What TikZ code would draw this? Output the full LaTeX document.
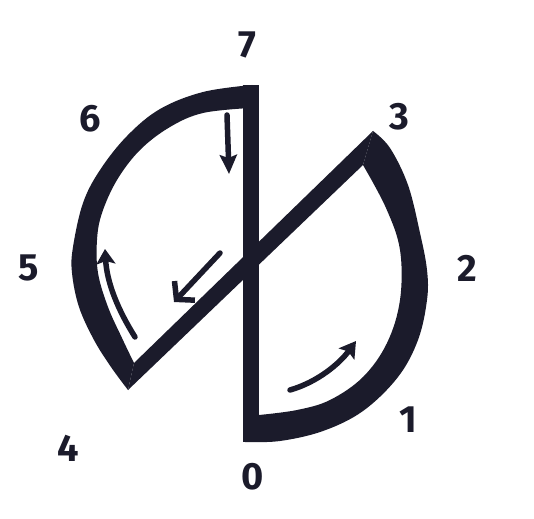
\documentclass[tikz,border=0pt]{standalone}
\usepackage{fontspec}
\setmainfont{Fira Sans}
\usetikzlibrary{arrows.meta}
\definecolor{ink}{HTML}{1B1B2B}
\begin{document}
\begin{tikzpicture}[x=1pt,y=-1pt,
  digit/.style={text=ink,font=\fontsize{38}{38}\selectfont\bfseries,inner sep=0pt},
  marker/.style={draw=ink,line width=5.5pt,line cap=round},
  band/.style={fill=ink}]
\useasboundingbox[fill=white] (0,0) rectangle (534,518);

% labels
\node[digit] (n7) at (247,45) {7};
\node[digit] (n6) at (90,119) {6};
\node[digit] (n3) at (399,117) {3};
\node[digit] (n2) at (467,268) {2};
\node[digit] (n5) at (29,268) {5};
\node[digit] (n1) at (408,420) {1};
\node[digit] (n4) at (68,448) {4};
\node[digit] (n0) at (253,477) {0};

% vertical bar 0 -- 7
\fill[band] (243,85) rectangle (259,442);

% left arc 7 -> 6 -> 5 -> 4
\fill[band] plot[smooth,tension=0.6] coordinates {(252,85) (203,92) (160,109) (127,136) (100,170) (83,203) (73,247) (72,273) (79,307) (94,340) (111,367) (128,390)}
  -- plot[smooth,tension=0.6] coordinates {(134,363) (122,338) (108,307) (98,273) (97,240) (102,213) (117,180) (140,150) (170,127) (203,113) (250,108)} -- cycle;

% diagonal 4 -- 3
\fill[band] (128,390) -- (363,165) -- (373,131) -- (134,363) -- cycle;

% right arc 3 -> 2 -> 1 -> 0
\fill[band] plot[smooth,tension=0.6] coordinates {(373,131) (390,148) (408,185) (420,233) (427,270) (427,300) (418,340) (398,377) (363,411) (323,431) (280,441) (245,442)}
  -- plot[smooth,tension=0.6] coordinates {(259,415) (297,410) (330,400) (363,377) (387,343) (400,300) (400,250) (386,208) (363,165)} -- cycle;

% arrows
\coordinate (a1s) at (227,115);
\coordinate (a1e) at (229,174);
\draw[marker,-{Stealth[length=19pt,width=17pt,inset=3pt]}] (a1s) -- (a1e);

\coordinate (a2s) at (135,337);
\coordinate (a2e) at (105,249);
\draw[marker,-{Stealth[length=15pt,width=19pt,inset=3pt]}] (a2s) .. controls (118,310) and (107,283) .. (a2e);

\coordinate (a3s) at (220,253);
\coordinate (a3e) at (174,302);
\draw[marker,-{Straight Barb[length=12pt,width=28pt]}] (a3s) -- (a3e);

\coordinate (a4s) at (290,390);
\coordinate (a4e) at (356,341);
\draw[marker,-{Stealth[length=16pt,width=19pt,inset=3pt]}] (a4s) .. controls (318,382) and (340,363) .. (a4e);
\end{tikzpicture}
\end{document}
